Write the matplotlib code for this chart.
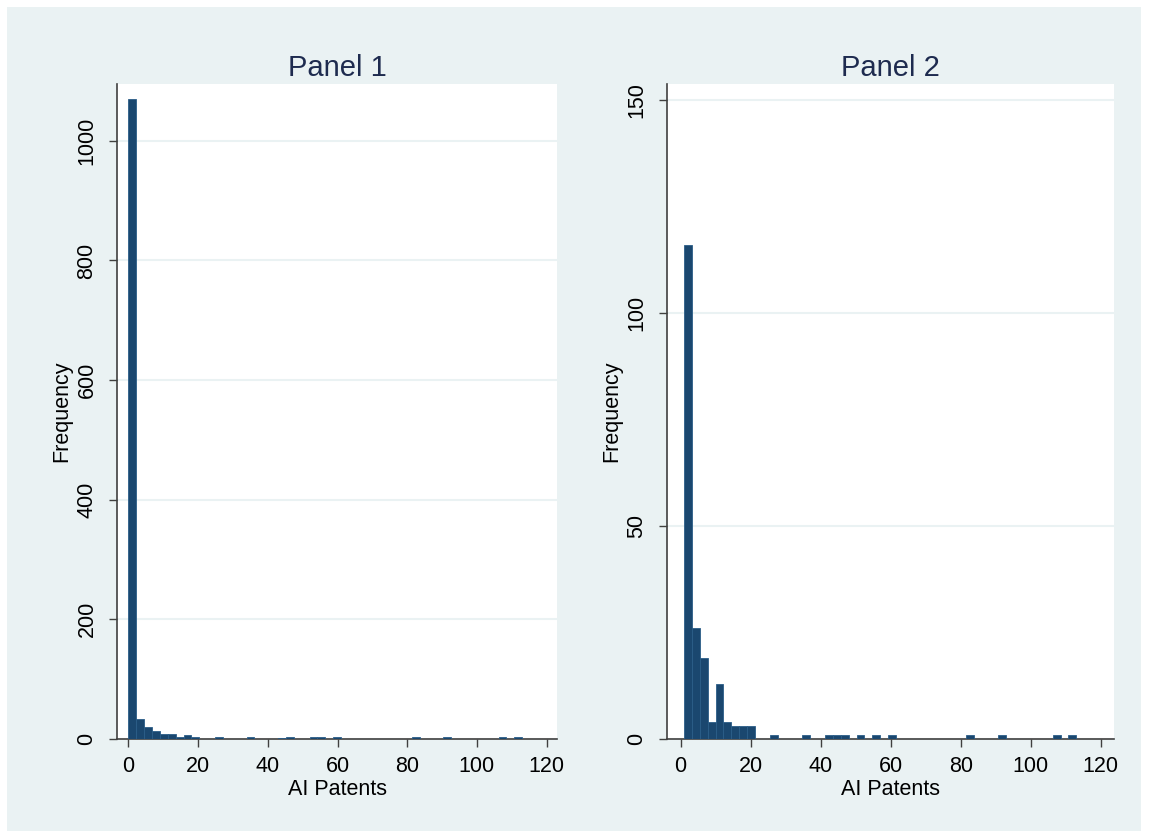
import matplotlib.pyplot as plt
import numpy as np
from matplotlib.patches import Rectangle

plt.rcParams['font.family'] = ['Liberation Sans', 'DejaVu Sans']

# histogram bins (50 bins each), counts
p1_start = 0.0
p1_width = 2.26
p1_counts = [1070, 34, 20, 13, 8, 8, 3, 6, 3, 0,
             0, 3, 0, 0, 0, 3, 0, 0, 0, 1,
             3, 0, 0, 3, 3, 0, 3, 0, 0, 0,
             0, 0, 0, 0, 0, 0, 3, 0, 0, 0,
             3, 0, 0, 0, 0, 0, 0, 3, 0, 3]

p2_start = 1.0
p2_width = 2.24
p2_counts = [116, 26, 19, 4, 13, 4, 3, 3, 3, 0,
             0, 1, 0, 0, 0, 1, 0, 0, 1, 1,
             1, 0, 1, 0, 1, 0, 1, 0, 0, 0,
             0, 0, 0, 0, 0, 0, 1, 0, 0, 0,
             1, 0, 0, 0, 0, 0, 0, 1, 0, 1]

titles = ['Panel 1', 'Panel 2']
xticks = [0, 20, 40, 60, 80, 100, 120]
p1_yticks = [0, 200, 400, 600, 800, 1000]
p2_yticks = [0, 50, 100, 150]

bg = '#EAF2F3'
bar_col = '#1a476f'

fig = plt.figure(figsize=(11.49, 8.38), dpi=100, facecolor='white')
# stata-style outer graph region
fig.patches.append(Rectangle((7 / 1149, 7 / 838), 1134 / 1149, 824 / 838,
                             transform=fig.transFigure, facecolor=bg,
                             edgecolor='none', zorder=-10))

ax1 = fig.add_axes([117 / 1149, 99 / 838, 440 / 1149, 655 / 838])
ax2 = fig.add_axes([667 / 1149, 99 / 838, 447 / 1149, 655 / 838])

panels = [
    (ax1, p1_start, p1_width, p1_counts, p1_yticks, (-3.3, 123), (0, 1095)),
    (ax2, p2_start, p2_width, p2_counts, p2_yticks, (-3.9, 123.8), (0, 153.7)),
]

for i, (ax, start, w, counts, yt, xl, yl) in enumerate(panels):
    lefts = start + w * np.arange(len(counts))
    ax.bar(lefts, counts, width=w, align='edge', color=bar_col,
           edgecolor='#2b5d88', linewidth=0.6, zorder=3)
    ax.set_xlim(*xl)
    ax.set_ylim(*yl)
    ax.set_xticks(xticks)
    ax.set_yticks(yt)
    ax.set_yticklabels([str(v) for v in yt], rotation=90, va='center')
    ax.grid(axis='y', color=bg, linewidth=1.5, zorder=0)
    ax.set_facecolor('white')
    for s in ['top', 'right']:
        ax.spines[s].set_visible(False)
    for s in ['left', 'bottom']:
        ax.spines[s].set_color('#404040')
        ax.spines[s].set_linewidth(1.2)
    ax.tick_params(axis='both', direction='out', length=6, width=1,
                   color='#404040', labelsize=15.5, labelcolor='black')
    ax.tick_params(axis='x', pad=6)
    ax.tick_params(axis='y', pad=8)
    ax.set_xlabel('AI Patents', fontsize=15.5, labelpad=2)
    ax.set_ylabel('Frequency', fontsize=15.5, labelpad=3)
    ax.set_title(titles[i], fontsize=21, color='#1e2b4f', pad=6)

fig.savefig('out.png', dpi=100, facecolor='white')
